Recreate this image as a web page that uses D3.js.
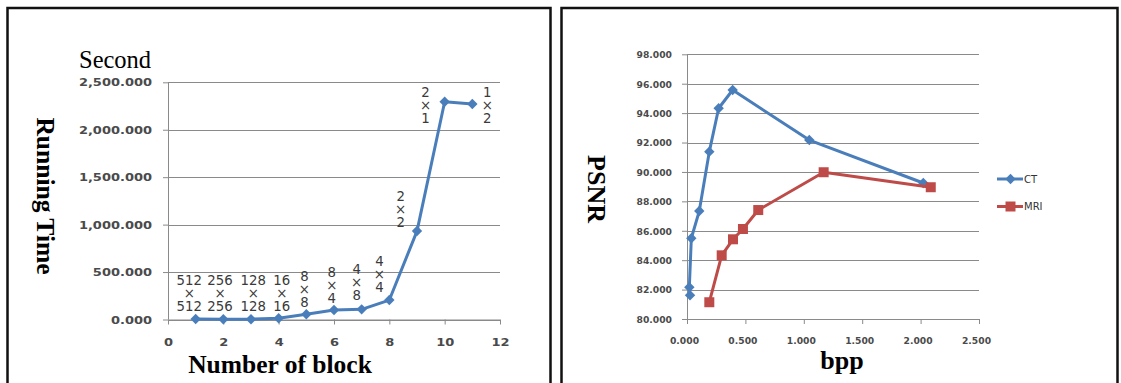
<!DOCTYPE html>
<html>
<head>
<meta charset="utf-8">
<script src="https://cdn.jsdelivr.net/npm/d3@7"></script>
<style>
  body { margin: 0; background: #fff; }
  svg { display: block; }
</style>
</head>
<body>
<svg id="fig" width="1121" height="383"></svg>
<script>
// ---- Running time vs. number of blocks ----
const blockNumbers = [1, 2, 3, 4, 5, 6, 7, 8, 9, 10, 11];
const runningTime  = [5, 3, 3, 13, 55, 100, 107, 205, 932, 2295, 2271];
const blockSizes   = ["512×512", "256×256", "128×128", "16×16", "8×8", "8×4",
                      "4×8", "4×4", "2×2", "2×1", "1×2"];
// where each block-size annotation sits, in data units (centre of the "×")
const sizeLabelX   = [0.77, 1.88, 3.08, 4.11, 4.93, 5.92, 6.82, 7.64, 8.41, 9.31, 11.54];
const sizeLabelY   = [276, 276, 276, 276, 318, 364, 392, 479, 1164, 2261, 2261];
const timeTicks    = [0, 500, 1000, 1500, 2000, 2500];
const blockTicks   = [0, 2, 4, 6, 8, 10, 12];

// ---- PSNR vs. bpp ----
const ctBpp    = [0.026, 0.020, 0.037, 0.105, 0.191, 0.271, 0.391, 1.047, 2.023];
const ctPsnr   = [81.61, 82.16, 85.49, 87.34, 91.38, 94.33, 95.57, 92.17, 89.25];
const mriBpp   = [0.191, 0.297, 0.394, 0.479, 0.610, 1.170, 2.087];
const mriPsnr  = [81.14, 84.33, 85.42, 86.12, 87.41, 89.98, 88.96];
const psnrTicks = [80, 82, 84, 86, 88, 90, 92, 94, 96, 98];
const bppTicks  = [0, 0.5, 1, 1.5, 2, 2.5];
const seriesNames = ["CT", "MRI"];

const BLUE = "#4A7EBB", RED = "#BE4B48", GRID = "#8a8a8a", INK = "#4a4a4a";
const svg = d3.select("#fig");

// panel frames
svg.append("rect").attr("x", 7.5).attr("y", 8).attr("width", 543).attr("height", 400)
  .attr("fill", "none").attr("stroke", "#111").attr("stroke-width", 2.5);
svg.append("rect").attr("x", 561.5).attr("y", 8).attr("width", 556).attr("height", 400)
  .attr("fill", "none").attr("stroke", "#111").attr("stroke-width", 2.5);

const diamond = "M0,-5.2L5.2,0L0,5.2L-5.2,0Z";
const square  = "M-5,-5H5V5H-5Z";

function gridAndAxes(g, x, y, yTicks, xTicks, yFmt, xFmt, opt) {
  const [x0, x1] = x.range();
  const [y0, y1] = y.range();
  g.append("g").selectAll("line").data(yTicks).join("line")
    .attr("x1", x0).attr("x2", x1)
    .attr("y1", d => Math.round(y(d)) + 0.5).attr("y2", d => Math.round(y(d)) + 0.5)
    .attr("stroke", GRID).attr("stroke-width", 1);

  const ya = g.append("g").attr("transform", `translate(${x0},0)`)
    .call(d3.axisLeft(y).tickValues(yTicks).tickSize(5).tickFormat(yFmt));
  ya.select(".domain").attr("stroke", GRID).attr("d", `M0.5,${y1}V${y0}`);
  ya.selectAll(".tick line").attr("stroke", GRID);
  ya.selectAll(".tick text").attr("x", null)
    .attr("transform", `translate(${opt.yPad},0) scale(${opt.sx},1)`)
    .attr("dy", "0.36em")
    .attr("fill", INK).attr("font-family", "DejaVu Sans").attr("font-weight", "bold")
    .attr("font-size", opt.fs);

  const xa = g.append("g").attr("transform", `translate(0,${y0})`)
    .call(d3.axisBottom(x).tickValues(xTicks).tickSize(5).tickFormat(xFmt));
  xa.select(".domain").attr("stroke", GRID).attr("d", `M${x0},0.5H${x1}`);
  xa.selectAll(".tick line").attr("stroke", GRID);
  xa.selectAll(".tick text").attr("y", null).attr("dy", null)
    .attr("transform", `translate(${opt.xDx},${opt.xBase}) scale(${opt.sx},1)`)
    .attr("fill", INK).attr("font-family", "DejaVu Sans").attr("font-weight", "bold")
    .attr("font-size", opt.fs);
  g.selectAll(".tick text").attr("text-anchor", null);
  ya.selectAll(".tick text").attr("text-anchor", "end");
  xa.selectAll(".tick text").attr("text-anchor", "middle");
}

// ================= left panel =================
{
  const x = d3.scaleLinear().domain([0, 12]).range([168, 500]);
  const y = d3.scaleLinear().domain([0, 2500]).range([319.5, 82.3]);
  const g = svg.append("g");
  gridAndAxes(g, x, y, timeTicks, blockTicks, d3.format(",.3f"), d3.format("d"),
    { yPad: -16, sx: 1.3, fs: 10, xDx: 0, xBase: 26.5 });

  const pts = blockNumbers.map((b, i) => [b, runningTime[i]]);
  g.append("path").datum(pts)
    .attr("d", d3.line().x(d => x(d[0])).y(d => y(d[1])))
    .attr("fill", "none").attr("stroke", BLUE).attr("stroke-width", 3)
    .attr("stroke-linejoin", "round");
  g.append("g").selectAll("path").data(pts).join("path")
    .attr("d", diamond).attr("transform", d => `translate(${x(d[0])},${y(d[1])})`)
    .attr("fill", BLUE);

  // block-size annotations, stacked as  a / × / b
  const ann = g.append("g").attr("font-family", "DejaVu Sans").attr("font-size", 13.3)
    .attr("fill", "#3a3a3a").attr("text-anchor", "middle");
  blockSizes.forEach((s, i) => {
    const [a, b] = s.split("×");
    const cx = x(sizeLabelX[i]), cy = y(sizeLabelY[i]);
    const t = ann.append("text").attr("transform", `translate(${cx},${cy})`);
    t.append("tspan").attr("x", 0).attr("y", -13).attr("dy", "0.36em").text(a);
    t.append("tspan").attr("x", 0).attr("y", 0).attr("dy", "0.36em").text("×");
    t.append("tspan").attr("x", 0).attr("y", 13).attr("dy", "0.36em").text(b);
  });

  svg.append("text").attr("x", 79).attr("y", 68)
    .attr("font-family", "Liberation Serif").attr("font-size", 24.5).attr("fill", "#000")
    .text("Second");
  svg.append("text").attr("transform", "translate(37,196) rotate(90)")
    .attr("text-anchor", "middle")
    .attr("font-family", "Liberation Serif").attr("font-weight", "bold").attr("font-size", 25.5)
    .text("Running Time");
  svg.append("text").attr("x", 280).attr("y", 373).attr("text-anchor", "middle")
    .attr("font-family", "Liberation Serif").attr("font-weight", "bold").attr("font-size", 25.5)
    .text("Number of block");
}

// ================= right panel =================
{
  const x = d3.scaleLinear().domain([0, 2.5]).range([687, 979]);
  const y = d3.scaleLinear().domain([80, 98]).range([319, 54.3]);
  const g = svg.append("g");
  gridAndAxes(g, x, y, psnrTicks, bppTicks, d3.format(".3f"), d3.format(".3f"),
    { yPad: -15, sx: 1, fs: 9.2, xDx: -3, xBase: 24.5 });

  const series = [
    { name: seriesNames[0], color: BLUE, shape: diamond, pts: ctBpp.map((v, i) => [v, ctPsnr[i]]) },
    { name: seriesNames[1], color: RED,  shape: square,  pts: mriBpp.map((v, i) => [v, mriPsnr[i]]) }
  ];
  series.forEach(s => {
    g.append("path").datum(s.pts)
      .attr("d", d3.line().x(d => x(d[0])).y(d => y(d[1])))
      .attr("fill", "none").attr("stroke", s.color).attr("stroke-width", 3)
      .attr("stroke-linejoin", "round");
    g.append("g").selectAll("path").data(s.pts).join("path")
      .attr("d", s.shape).attr("transform", d => `translate(${x(d[0])},${y(d[1])})`)
      .attr("fill", s.color);
  });

  // legend
  const lg = svg.append("g");
  series.forEach((s, i) => {
    const ly = 179 + i * 27.5;
    lg.append("line").attr("x1", 997).attr("x2", 1023).attr("y1", ly).attr("y2", ly)
      .attr("stroke", s.color).attr("stroke-width", 3);
    lg.append("path").attr("d", s.shape).attr("transform", `translate(1010.5,${ly})`)
      .attr("fill", s.color);
    lg.append("text").attr("x", 1024).attr("y", ly).attr("dy", "0.36em")
      .attr("font-family", "DejaVu Sans").attr("font-size", 10).attr("fill", "#333")
      .text(s.name);
  });

  svg.append("text").attr("transform", "translate(588,189) rotate(90)")
    .attr("text-anchor", "middle")
    .attr("font-family", "Liberation Serif").attr("font-weight", "bold").attr("font-size", 26)
    .text("PSNR");
  svg.append("text").attr("x", 842).attr("y", 369).attr("text-anchor", "middle")
    .attr("font-family", "Liberation Serif").attr("font-weight", "bold").attr("font-size", 26)
    .text("bpp");
}
</script>
</body>
</html>
